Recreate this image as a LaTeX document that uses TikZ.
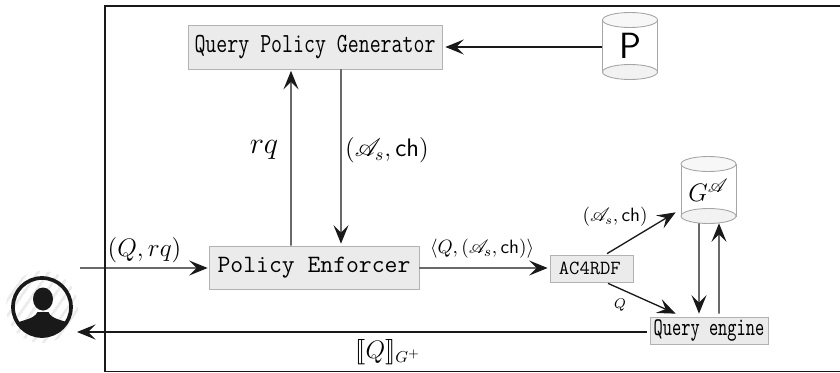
\documentclass[tikz,border=0pt]{standalone}
\usepackage{amsmath}
\usepackage{graphicx}
\usepackage{mathrsfs}
\usepackage{stmaryrd}
\usetikzlibrary{arrows.meta,calc,patterns.meta}
\tikzset{
	modbox/.style={draw=black!30, fill=black!8, inner sep=0pt},
	flow/.style={-{Stealth[length=3.7mm,width=3mm,inset=1.5mm]}, line width=0.75pt, black!90},
	dbside/.style={draw=black!35, line width=0.5pt}
}
% store: cylinder drawn round a named node (name, x, y, label)
\def\datastore(#1)(#2,#3)#4{
	\draw[dbside, fill=white] (#2-0.55, #3+0.52) -- (#2-0.55, #3-0.52) -- (#2+0.55, #3-0.52) -- (#2+0.55, #3+0.52);
	\draw[dbside, fill=black!3] (#2, #3+0.52) ellipse (0.55 and 0.15);
	\draw[dbside, fill=black!5] (#2, #3-0.52) ellipse (0.55 and 0.15);
	\node[minimum width=1.1cm, minimum height=1.34cm, inner sep=0pt] (#1) at (#2, #3) {#4};
}
\begin{document}
\begin{tikzpicture}
	%%%%% START %%%%%
	\useasboundingbox (0, 0) rectangle (16.8, 7.44);
	\draw[line width=1.1pt, black!90] (17, 0.01) -- (2.1, 0.01) -- (2.1, 7.32) -- (17, 7.32);

	% modules
	\node[modbox, minimum width=5.08cm, minimum height=0.88cm] (generator) at (6.3, 6.5) {\scalebox{1}[1.3]{\fontsize{12.1}{14}\selectfont\ttfamily Query Policy Generator}};
	\node[modbox, minimum width=4.2cm, minimum height=0.86cm] (enforcer) at (6.28, 2.09) {\fontsize{14.2}{16}\selectfont\ttfamily Policy Enforcer};
	\node[modbox, minimum width=1.66cm, minimum height=0.54cm] (rdf) at (11.83, 2.07) {\fontsize{11.4}{13}\selectfont\ttfamily AC4RDF\,};
	\node[modbox, minimum width=2.36cm, minimum height=0.54cm] (engine) at (14.18, 0.83) {\scalebox{1}[1.45]{\fontsize{10}{12}\selectfont\ttfamily Query engine}};

	\datastore(policies)(12.6, 6.52){\fontsize{20}{24}\selectfont$\mathsf{P}$}
	\datastore(graph)(14.17, 3.64){\fontsize{15}{17}\selectfont$G^{\mathscr{A}}$}

	% user
	\coordinate (user) at (0.84, 1.3);
	\fill[pattern={Lines[angle=55,distance=1.8mm,line width=0.6mm]}, pattern color=black!8] (user) circle (0.72);
	\begin{scope}
		\clip (user) circle (0.58);
		\fill[black!90] (0.86, 1.46) ellipse (0.2 and 0.23);
		\fill[black!90] (0.2, 0.6) -- (0.2, 0.93) .. controls (0.4, 1.04) and (0.68, 1.04) .. (0.75, 1.2) -- (0.97, 1.2) .. controls (1.03, 1.04) and (1.3, 1.04) .. (1.5, 0.93) -- (1.5, 0.6) -- cycle;
	\end{scope}
	\draw[line width=2.1pt, black!90] (user) circle (0.58);

	% connectors
	\coordinate (entry) at (1.6, 2.08);
	\coordinate (exit) at (1.54, 0.8);
	\draw[flow] (entry) -- ($(enforcer.west)+(-0.02, -0.01)$);
	\draw[flow] ($(engine.west)+(-0.06, -0.03)$) -- (exit);
	\draw[flow] ($(enforcer.north)+(-0.46, 0)$) -- ($(generator.south)+(-0.48, -0.03)$);
	\draw[flow] ($(generator.south)+(0.52, 0)$) -- ($(enforcer.north)+(0.54, 0.04)$);
	\draw[flow] (policies.west |- generator.east) -- ($(generator.east)+(0.06, 0)$);
	\draw[flow] ($(enforcer.east)+(0, -0.01)$) -- ($(rdf.west)+(-0.04, 0.01)$);
	\draw[flow] ($(rdf.north)+(0.31, 0.02)$) -- ($(graph.south west)+(-0.1, 0.23)$);
	\draw[flow] ($(rdf.south)+(0.33, -0.02)$) -- ($(engine.north west)+(0.52, 0.06)$);
	\draw[flow] ($(graph.south)+(-0.19, 0.01)$) -- ($(engine.north)+(-0.2, 0.06)$);
	\draw[flow] ($(engine.north)+(0.2, 0.06)$) -- ($(graph.south)+(0.21, 0.01)$);

	% labels
	\node (inlabel) at (2.89, 2.44) {\fontsize{15}{17}\selectfont$(Q, rq)$};
	\node (rqlabel) at (5.28, 4.44) {\fontsize{16.8}{19}\selectfont$rq$};
	\node (chlabel) at (7.74, 4.44) {\fontsize{13.8}{16}\selectfont$(\mathscr{A}_s, \mathsf{ch})$};
	\node (pairlabel) at (9.64, 2.46) {\fontsize{11}{13}\selectfont$\langle Q, (\mathscr{A}_s, \mathsf{ch})\rangle$};
	\node (storelabel) at (12.3, 3.1) {\fontsize{10.6}{12}\selectfont$(\mathscr{A}_s, \mathsf{ch})$};
	\node (qlabel) at (12.4, 1.34) {\fontsize{8}{10}\selectfont$Q$};
	\node (resultlabel) at (7.76, 0.4) {\fontsize{13.5}{16}\selectfont$\llbracket Q \rrbracket_{G^{+}}$};
	%%%%% END %%%%%
\end{tikzpicture}
\end{document}
